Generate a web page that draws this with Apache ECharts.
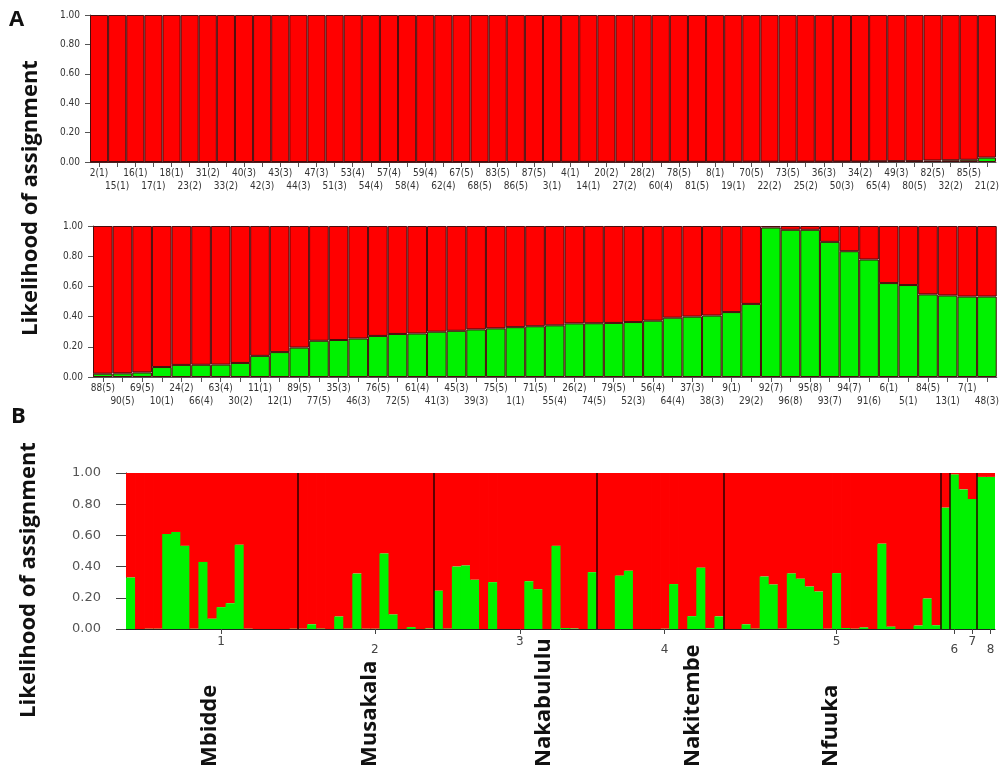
<!DOCTYPE html>
<html>
<head>
<meta charset="utf-8">
<script src="https://cdn.jsdelivr.net/npm/echarts@6/dist/echarts.min.js"></script>
<style>
  html, body { margin: 0; padding: 0; background: #fff; }
  #chart { width: 1002px; height: 771px; }
</style>
</head>
<body>
<div id="chart"></div>
<script>
// ---- Panel A, first row: individuals "id(population)" and their green-cluster membership ----
const rowOneLabels = ['2(1)','15(1)','16(1)','17(1)','18(1)','23(2)','31(2)','33(2)','40(3)','42(3)',
  '43(3)','44(3)','47(3)','51(3)','53(4)','54(4)','57(4)','58(4)','59(4)','62(4)',
  '67(5)','68(5)','83(5)','86(5)','87(5)','3(1)','4(1)','14(1)','20(2)','27(2)',
  '28(2)','60(4)','78(5)','81(5)','8(1)','19(1)','70(5)','22(2)','73(5)','25(2)',
  '36(3)','50(3)','34(2)','65(4)','49(3)','80(5)','82(5)','32(2)','85(5)','21(2)'];
const rowOneGreen = [0,0,0,0,0,0,0,0,0,0,
  0,0,0,0,0,0,0,0,0,0,
  0,0,0,0,0,0.001,0.001,0.001,0.001,0.001,
  0.001,0.001,0.001,0.001,0.001,0.001,0.002,0.002,0.002,0.002,
  0.002,0.003,0.003,0.005,0.006,0.006,0.010,0.012,0.015,0.030];

// ---- Panel A, second row ----
const rowTwoLabels = ['88(5)','90(5)','69(5)','10(1)','24(2)','66(4)','63(4)','30(2)','11(1)','12(1)',
  '89(5)','77(5)','35(3)','46(3)','76(5)','72(5)','61(4)','41(3)','45(3)','39(3)',
  '75(5)','1(1)','71(5)','55(4)','26(2)','74(5)','79(5)','52(3)','56(4)','64(4)',
  '37(3)','38(3)','9(1)','29(2)','92(7)','96(8)','95(8)','93(7)','94(7)','91(6)',
  '6(1)','5(1)','84(5)','13(1)','7(1)','48(3)'];
const rowTwoGreen = [0.022,0.024,0.030,0.066,0.080,0.081,0.082,0.093,0.140,0.165,
  0.195,0.240,0.245,0.255,0.272,0.285,0.288,0.300,0.306,0.315,
  0.322,0.330,0.336,0.342,0.355,0.356,0.358,0.364,0.373,0.393,
  0.400,0.407,0.430,0.484,0.990,0.975,0.975,0.895,0.833,0.778,
  0.622,0.609,0.547,0.540,0.533,0.533];

// ---- Panel B: populations in sampling order ----
const popNumbers = ['1','2','3','4','5','6','7','8'];
const popSizes = [19, 15, 18, 14, 24, 1, 3, 2];
const popNames = ['Mbidde', 'Musakala', 'Nakabululu', 'Nakitembe', 'Nfuuka'];

const axisTitle = 'Likelihood of assignment';

// ---- colours / fonts ----
const RED = '#ff0000';
const GREEN = '#00f200';
const BAR_EDGE = '#4a0c0c';
const smallFont = "'Liberation Sans Narrow','DejaVu Sans Condensed','Liberation Sans',sans-serif";
const boldFont = "'Open Sans','Noto Sans',sans-serif";

// membership per individual id, collected from both rows of panel A
const membership = {};
[[rowOneLabels, rowOneGreen], [rowTwoLabels, rowTwoGreen]].forEach(([labs, vals]) => {
  labs.forEach((l, i) => {
    const id = parseInt(l.match(/^(\d+)\(/)[1], 10);
    membership[id] = vals[i];
  });
});

// individuals of panel B ordered by id, grouped by population
const popStart = [];
let acc = 0;
popSizes.forEach(n => { popStart.push(acc); acc += n; });
const totalInd = acc;
const individuals = [];
for (let i = 1; i <= totalInd; i++) individuals.push(String(i));
const popGreen = individuals.map(id => membership[+id]);
const boundaries = popStart.slice(1);
// tick / number position for each population (category index)
const popTickIdx = popSizes.map((n, k) => popStart[k] + Math.ceil(n / 2));

const chart = echarts.init(document.getElementById('chart'), null, { renderer: 'canvas' });

function panelAY(gridIndex) {
  return {
    type: 'value', gridIndex, min: 0, max: 1, interval: 0.2,
    axisLine: { show: true, lineStyle: { color: '#555', width: 1 } },
    axisTick: { show: true, length: 5, lineStyle: { color: '#555' } },
    axisLabel: { show: true, margin: 10, fontSize: 10, color: '#333', fontFamily: smallFont,
      formatter: v => v.toFixed(2) },
    splitLine: { show: false }
  };
}
function panelAX(gridIndex, labels) {
  return {
    type: 'category', gridIndex, data: labels,
    axisLine: { show: true, lineStyle: { color: '#555', width: 1 } },
    axisTick: { show: true, alignWithLabel: true, length: 5, interval: 0, lineStyle: { color: '#555' } },
    axisLabel: {
      interval: 0, margin: 6, fontSize: 10, color: '#333', fontFamily: smallFont,
      formatter: (v, i) => (i % 2 === 0 ? '{u|' + v + '}' : '{d|' + v + '}'),
      rich: {
        u: { fontSize: 10, fontFamily: smallFont, color: '#333', padding: [0, 0, 0, 0] },
        d: { fontSize: 10, fontFamily: smallFont, color: '#333', padding: [13, 0, 0, 0] }
      }
    }
  };
}
// panel A: green membership at the bottom, remainder (red cluster) stacked on top, outlined bars
function stackPair(xi, yi, greens, stackName) {
  return [
    {
      type: 'bar', xAxisIndex: xi, yAxisIndex: yi, stack: stackName,
      data: greens, barCategoryGap: '0%', barGap: '0%', silent: true,
      itemStyle: { color: GREEN, borderColor: BAR_EDGE, borderWidth: 1 }
    },
    {
      type: 'bar', xAxisIndex: xi, yAxisIndex: yi, stack: stackName,
      data: greens.map(g => +(1 - g).toFixed(4)), barCategoryGap: '0%', barGap: '0%', silent: true,
      itemStyle: { color: RED, borderColor: BAR_EDGE, borderWidth: 1 }
    }
  ];
}

// panel B: one seamless column per individual (green below, red above)
function renderColumn(params, api) {
  const i = api.value(0);
  const g = api.value(1);
  const base = api.coord([i, 0]);
  const top = api.coord([i, 1]);
  const mid = api.coord([i, g]);
  const w = api.size([1, 0])[0];
  const x0 = base[0] - w / 2;
  return {
    type: 'group',
    children: [
      { type: 'rect', shape: { x: x0, y: top[1], width: w + 0.8, height: mid[1] - top[1] },
        style: { fill: RED } },
      { type: 'rect', shape: { x: x0, y: mid[1], width: w + 0.8, height: base[1] - mid[1] },
        style: { fill: GREEN } }
    ]
  };
}

const option = {
  animation: false,
  backgroundColor: '#ffffff',
  grid: [
    { left: 90, top: 15, width: 907, height: 147 },
    { left: 93, top: 226, width: 905, height: 151 },
    { left: 126, top: 473, width: 869, height: 156 }
  ],
  xAxis: [
    panelAX(0, rowOneLabels),
    panelAX(1, rowTwoLabels),
    {
      type: 'category', gridIndex: 2, data: individuals,
      axisLine: { show: true, lineStyle: { color: '#222', width: 1 } },
      axisTick: { show: true, alignWithLabel: true, length: 5,
        interval: i => popTickIdx.indexOf(i) >= 0, lineStyle: { color: '#444' } },
      axisLabel: {
        interval: i => popTickIdx.indexOf(i) >= 0, margin: 7,
        formatter: (v, i) => {
          const k = popTickIdx.indexOf(i);
          if (k < 0) return '';
          return (k % 2 === 0 ? '{u|' : '{d|') + popNumbers[k] + '}';
        },
        rich: {
          u: { fontSize: 12, fontFamily: 'DejaVu Sans', color: '#444' },
          d: { fontSize: 12, fontFamily: 'DejaVu Sans', color: '#444', padding: [8, 0, 0, 0] }
        }
      }
    },
    { type: 'value', gridIndex: 2, min: 0, max: totalInd, show: false }
  ],
  yAxis: [
    panelAY(0),
    panelAY(1),
    {
      type: 'value', gridIndex: 2, min: 0, max: 1, interval: 0.2,
      axisLine: { show: true, lineStyle: { color: '#222', width: 1 } },
      axisTick: { show: true, length: 10, lineStyle: { color: '#444' } },
      axisLabel: { margin: 25, fontSize: 13, color: '#555', fontFamily: 'DejaVu Sans',
        formatter: v => v.toFixed(2) },
      splitLine: { show: false }
    }
  ],
  series: [
    ...stackPair(0, 0, rowOneGreen, 'a1'),
    ...stackPair(1, 1, rowTwoGreen, 'a2'),
    {
      type: 'custom', xAxisIndex: 2, yAxisIndex: 2, silent: true, clip: true,
      renderItem: renderColumn,
      encode: { x: 0, y: 1 },
      data: popGreen.map((g, i) => [i, g])
    },
    {
      type: 'line', xAxisIndex: 3, yAxisIndex: 2, data: [[0, 0]], silent: true,
      showSymbol: false, lineStyle: { opacity: 0 },
      markLine: {
        silent: true, symbol: 'none', animation: false,
        label: { show: false },
        lineStyle: { color: '#2a0000', type: 'solid', width: 1.5 },
        data: boundaries.map(b => ({ xAxis: b }))
      }
    }
  ]
};
chart.setOption(option);

// Text: panel letters, axis titles, population names
const namePos = popNames.map((_, k) => popStart[k] + popSizes[k] / 2);
const nameShift = [-0.2, 0.4, 3.1, 3.6, -0.2];
const graphics = [
  { type: 'text', left: 9, top: 9, style: { text: 'A', font: 'bold 22px ' + boldFont, fill: '#111' } },
  { type: 'text', left: 11, top: 406, style: { text: 'B', font: 'bold 22px ' + boldFont, fill: '#111' } },
  { type: 'text', x: 31, y: 198, rotation: Math.PI / 2,
    style: { text: axisTitle, font: 'bold 22px ' + boldFont, fill: '#111', textAlign: 'center', textVerticalAlign: 'middle' } },
  { type: 'text', x: 29, y: 580, rotation: Math.PI / 2,
    style: { text: axisTitle, font: 'bold 22px ' + boldFont, fill: '#111', textAlign: 'center', textVerticalAlign: 'middle' } }
];
popNames.forEach((name, k) => {
  const px = chart.convertToPixel({ xAxisIndex: 3 }, namePos[k] + nameShift[k]);
  graphics.push({
    type: 'text', x: px, y: 767, rotation: Math.PI / 2,
    style: { text: name, font: 'bold 22px ' + boldFont, fill: '#111', textAlign: 'left', textVerticalAlign: 'middle' }
  });
});
chart.setOption({ graphic: graphics });
</script>
</body>
</html>
